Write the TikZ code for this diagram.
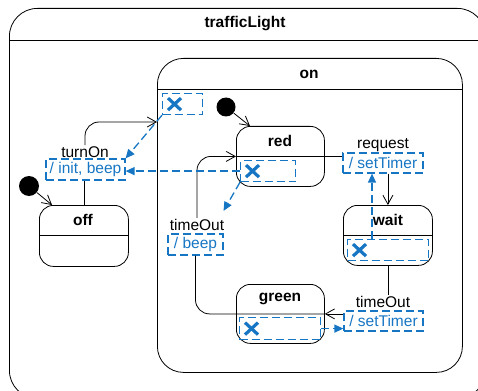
\documentclass[tikz,border=0pt]{standalone}
\usepackage{fontspec}
\setmainfont{Liberation Sans}
\usetikzlibrary{arrows.meta}
\definecolor{umlblue}{RGB}{22,118,196}
% small blue cross marking an exit point inside a region box
\newcommand\umlcross[1]{%
  \draw[xmark] ([xshift=6pt,yshift=6pt]#1.west) -- ([xshift=19pt,yshift=-6pt]#1.west);
  \draw[xmark] ([xshift=6pt,yshift=-6pt]#1.west) -- ([xshift=19pt,yshift=6pt]#1.west);}
\begin{document}
\begin{tikzpicture}[x=1pt,y=-1pt,
  font=\fontsize{15.5}{18}\selectfont,
  line width=0.8pt,
  state/.style={draw, rounded corners=14pt, anchor=north west, inner sep=0pt},
  region/.style={draw=umlblue, dash pattern=on 8pt off 4pt, line width=1.2pt,
    anchor=north west, inner sep=0pt},
  lblbox/.style={draw=umlblue, dash pattern=on 8pt off 4pt, line width=1.2pt,
    text=umlblue, inner sep=0pt},
  lbl/.style={inner sep=1pt},
  title/.style={font=\fontsize{15.5}{18}\selectfont\bfseries, inner sep=0pt},
  initdot/.style={circle, fill=black, inner sep=0pt, minimum size=20pt},
  trans/.style={-{Straight Barb[length=9pt,width=10pt]}, line width=0.8pt},
  flow/.style={umlblue, dash pattern=on 8pt off 4pt, line width=1.3pt,
    -{Triangle[length=9pt,width=8pt]}},
  xmark/.style={umlblue, line width=3.2pt},
]
\useasboundingbox (0,0) rectangle (478,390);
\clip (0,0) rectangle (478,390);

% composite states
\node[state, rounded corners=28pt, minimum width=476pt, minimum height=390pt] (traffic) at (9,8) {};
\draw ([yshift=-32pt]traffic.north west) -- ([yshift=-32pt]traffic.north east);
\node[title] (tTraffic) at (245,24) {trafficLight};

\node[state, rounded corners=26pt, minimum width=305pt, minimum height=314pt] (on) at (157,58) {};
\draw ([yshift=-31pt]on.north west) -- ([yshift=-31pt]on.north east);
\node[title] (tOn) at (309,74) {on};

% simple states
\node[state, minimum width=89pt, minimum height=61pt] (off) at (39,205) {};
\draw ([yshift=-30pt]off.north west) -- ([yshift=-30pt]off.north east);
\node[title] (tOff) at (83,220) {off};

\node[state, minimum width=88pt, minimum height=60pt] (red) at (236,126) {};
\node[title] (tRed) at (280,141) {red};

\node[state, minimum width=89pt, minimum height=60pt] (wait) at (343,205) {};
\draw ([yshift=-30pt]wait.north west) -- ([yshift=-30pt]wait.north east);
\node[title] (tWait) at (388,220) {wait};

\node[state, minimum width=88pt, minimum height=59pt] (green) at (236,284) {};
\node[title] (tGreen) at (280,299) {green};

% initial pseudostates
\node[initdot] (init1) at (29,186) {};
\node[initdot, minimum size=19pt] (init2) at (226,107) {};

% exit regions
\node[region, minimum width=40pt, minimum height=21pt] (onx) at (162,93) {};
\node[region, minimum width=55pt, minimum height=21pt] (redx) at (240,160) {};
\node[region, minimum width=81pt, minimum height=21pt] (waitx) at (347,239) {};
\node[region, minimum width=81pt, minimum height=22pt] (greenx) at (239,317) {};
\umlcross{onx}
\umlcross{redx}
\umlcross{waitx}
\umlcross{greenx}

% transition labels
\node[lbl] (lTurnOn) at (85,152) {turnOn};
\node[lblbox, minimum width=79pt, minimum height=21pt] (bInit) at (85.5,169.5) {/ init, beep};
\node[lbl] (lRequest) at (383,145) {request};
\node[lblbox, minimum width=80pt, minimum height=20pt] (bReq) at (383,163) {/ setTimer};
\node[lbl] (lTimeOut1) at (197,225) {timeOut};
\node[lblbox, minimum width=55pt, minimum height=21pt] (bBeep) at (195.5,244.5) {/ beep};
\node[lbl] (lTimeOut2) at (383,302) {timeOut};
\node[lblbox, minimum width=79pt, minimum height=20pt] (bSet) at (383.5,321) {/ setTimer};

\coordinate (onIn) at (157,122);

% transitions
\draw[trans] (init1) -- ([xshift=13pt]off.north west);
\draw[trans] (init2) -- ([xshift=14pt]red.north west);
\draw (off.north) -- (off.north |- bInit.south);
\draw[trans, rounded corners=14pt] (lTurnOn.north) |- (onIn);
\draw (red.east) -- (red.east -| bReq.west);
\draw[trans] (wait.north |- bReq.south) -- (wait.north);
\draw (wait.south) -- (wait.south |- lTimeOut2.north);
\draw[trans] (green.east -| bSet.west) -- (green.east);
\draw[rounded corners=14pt] (green.east) -- (green.west) -| (bBeep.south);
\draw[trans, rounded corners=14pt] (lTimeOut1.north) |- (red.west);
\draw (red.west) -- (red.east);

% exit flows
\draw[flow] (onx.south west) -- (bInit.north east);
\draw[flow] (redx.west) -- (redx.west -| bInit.east);
\draw[flow] (redx.south west) -- ([xshift=-2pt,yshift=7pt]lTimeOut1.north east);
\draw[flow] ([xshift=25pt]waitx.north west) -- ([xshift=25pt]waitx.north west |- bReq.south);
\draw[flow] (greenx.east) -- (greenx.east -| bSet.west);
\end{tikzpicture}
\end{document}
